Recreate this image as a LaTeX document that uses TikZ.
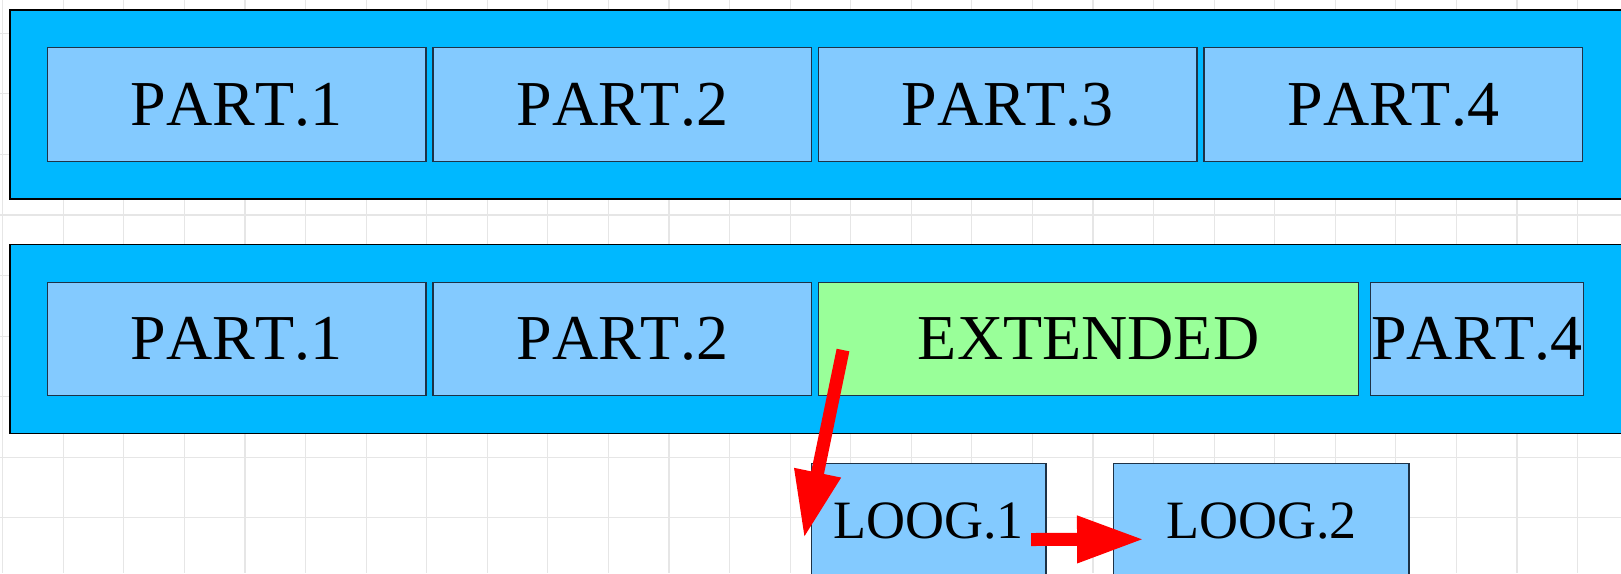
\documentclass[tikz,border=0pt]{standalone}
\usepackage{fontspec}
\setmainfont{Liberation Serif}[Kerning=Off]
\usetikzlibrary{arrows.meta,calc}
\definecolor{bandblue}{RGB}{0,184,255}
\definecolor{partblue}{RGB}{131,202,255}
\definecolor{extgreen}{RGB}{153,255,153}
\definecolor{gridgray}{RGB}{230,230,230}
\definecolor{partedge}{RGB}{30,50,70}
\begin{document}
\begin{tikzpicture}[x=1pt,y=-1pt,
  gridline/.style={draw=gridgray, line width=1.2pt},
  band/.style={draw=black, line width=1.3pt, fill=bandblue,
    minimum width=1640pt, minimum height=189pt, inner sep=0pt, outer sep=0pt},
  part/.style={draw=partedge, line width=1.1pt, fill=partblue,
    minimum height=113.5pt, inner sep=0pt, outer sep=0pt,
    font=\fontsize{64}{70}\selectfont},
  extbox/.style={part, fill=extgreen},
  loog/.style={part, minimum height=115.5pt, font=\fontsize{54}{60}\selectfont},
  flow/.style={draw=red, line width=13pt, -{Triangle[length=67pt,width=44pt]}}
]
\useasboundingbox (0,0) rectangle (1621,573);
\begin{scope}
\clip (0,0) rectangle (1621,573);
% background grid
\foreach \i in {0,...,26}
  \draw[gridline] ({2.7+60.57*\i},0) -- ({2.7+60.57*\i},573);
\foreach \j in {0,...,8}
  \draw[gridline] (0,{33.3+60.57*\j}) -- (1621,{33.3+60.57*\j});

% upper band: original layout
\node[band] (bandA) at (830,104.5) {};
\node[part, minimum width=378.5pt] (a1) at (236.75,104.5) {PART.1};
\node[part, minimum width=378.5pt] (a2) at (622.25,104.5) {PART.2};
\node[part, minimum width=378.5pt] (a3) at (1007.75,104.5) {PART.3};
\node[part, minimum width=378.5pt] (a4) at (1393.25,104.5) {PART.4};

% lower band: extended layout
\node[band] (bandB) at (830,338.8) {};
\node[part, minimum width=378.5pt] (b1) at (236.75,338.8) {PART.1};
\node[part, minimum width=378.5pt] (b2) at (622.25,338.8) {PART.2};
\node[extbox, minimum width=540.2pt] (ext) at (1088.6,338.8) {EXTENDED};
\node[part, minimum width=212.6pt] (b4) at (1477,338.8) {PART.4};

% log boxes
\node[loog, minimum width=234.7pt] (lg1) at (928.65,521) {LOOG.1};
\node[loog, minimum width=295.3pt] (lg2) at (1261.35,521) {LOOG.2};

% arrows
\draw[flow] ($(ext.south west)+(24.5,-45.5)$) -- ($(lg1.west)+(-7.3,17.3)$);
\draw[flow] ($(lg1.east)+(-15,18.5)$) -- ($(lg2.west)+(30.3,18.3)$);
\end{scope}
\end{tikzpicture}
\end{document}
